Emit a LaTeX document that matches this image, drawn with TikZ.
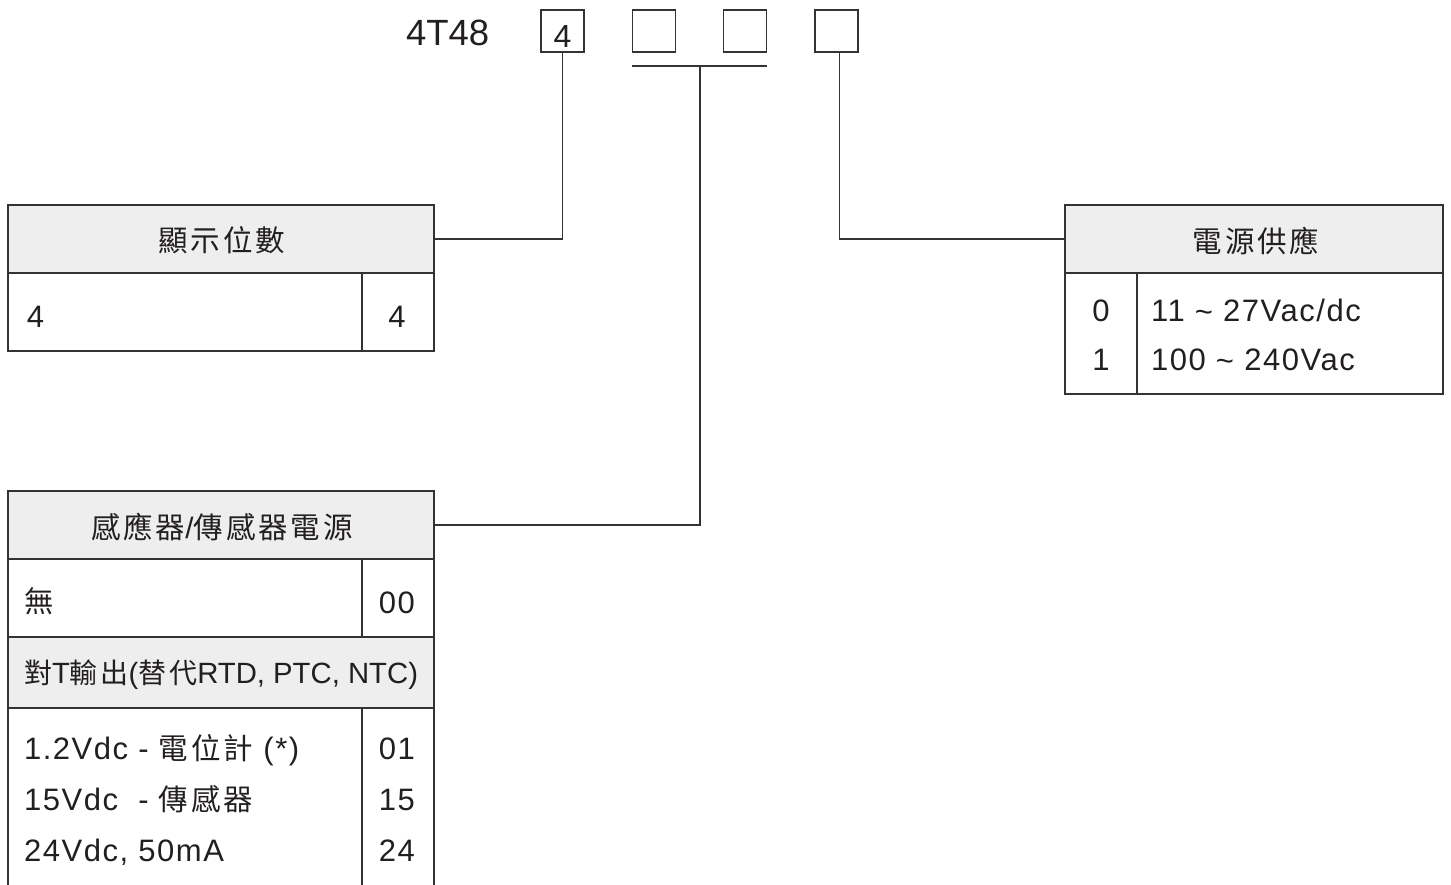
\documentclass[tikz,border=0pt]{standalone}
\usepackage{fontspec}
\setmainfont{Liberation Sans}
\newfontfamily\lat[LetterSpace=5]{Liberation Sans}
\newfontfamily\latn{Liberation Sans}
\newfontfamily\cjk[LetterSpace=10]{Noto Sans CJK TC}
\definecolor{ink}{HTML}{231F20}
\definecolor{hdr}{HTML}{EEEEEE}
\definecolor{ln}{HTML}{333333}
\tikzset{
  cellbox/.style={draw=ln, line width=1.5pt, anchor=north west, inner sep=0pt, outer sep=0pt},
  hdrbox/.style={cellbox, fill=hdr},
  digbox/.style={draw=ln, line width=1.3pt, inner sep=0pt, outer sep=0pt, minimum width=43pt, minimum height=42pt},
  conn/.style={draw=ln, line width=1.3pt},
  txt/.style={text=ink, inner sep=0pt, outer sep=0pt, font=\lat\fontsize{31}{34}\selectfont},
  ctxt/.style={text=ink, inner sep=0pt, outer sep=0pt, font=\cjk\fontsize{29.5}{34}\selectfont},
}
\begin{document}
\begin{tikzpicture}[x=1pt,y=-1pt]
\useasboundingbox (0,0) rectangle (1451,884);
% code line
\node[txt, font=\latn\fontsize{36.5}{40}\selectfont, anchor=base west] (code) at (406,45) {4T48};
\node[digbox] (b1) at (562.5,31) {};
\node[txt, font=\latn\fontsize{32}{34}\selectfont, anchor=base] (b1t) at (562.5,47) {4};
\node[digbox] (b2) at (654,31) {};
\node[digbox] (b3) at (745,31) {};
\node[digbox] (b4) at (836.5,31) {};
\coordinate (barL) at (632,66);
\coordinate (barR) at (767,66);
\coordinate (barM) at (700,66);
\draw[conn] (barL) -- (barR);

% table 1
\node[hdrbox, minimum width=426pt, minimum height=68pt] (t1h) at (8,205) {};
\node[ctxt] (t1ht) at (222,240) {顯示位數};
\node[cellbox, minimum width=354pt, minimum height=78pt] (t1a) at (8,273) {};
\node[cellbox, minimum width=72pt, minimum height=78pt] (t1b) at (362,273) {};
\node[txt, anchor=base west] (t1at) at (27,327) {4};
\node[txt, anchor=base] (t1bt) at (397,327) {4};

% table 3
\node[hdrbox, minimum width=378pt, minimum height=68pt] (t3h) at (1065,205) {};
\node[ctxt] (t3ht) at (1256,241) {電源供應};
\node[cellbox, minimum width=72pt, minimum height=121pt] (t3a) at (1065,273) {};
\node[cellbox, minimum width=306pt, minimum height=121pt] (t3b) at (1137,273) {};
\node[txt, anchor=base] (t3a1) at (1101,321) {0};
\node[txt, anchor=base] (t3a2) at (1101,370) {1};
\node[txt, anchor=base west] (t3b1) at (1151,321) {11 \raisebox{-1pt}{\textasciitilde} 27Vac/dc};
\node[txt, anchor=base west] (t3b2) at (1151,370) {100 \raisebox{-1pt}{\textasciitilde} 240Vac};

% table 2
\node[hdrbox, minimum width=426pt, minimum height=68pt] (t2h) at (8,491) {};
\node[ctxt] (t2ht) at (222,527) {感應器{\latn/}傳感器電源};
\node[cellbox, minimum width=354pt, minimum height=78pt] (t2a) at (8,559) {};
\node[cellbox, minimum width=72pt, minimum height=78pt] (t2b) at (362,559) {};
\node[ctxt, anchor=west] (t2at) at (24,601) {無};
\node[txt, anchor=base] (t2bt) at (397,613) {00};
\node[hdrbox, minimum width=426pt, minimum height=71pt] (t2g) at (8,637) {};
\node[txt, font=\latn\fontsize{29.3}{34}\selectfont, anchor=base west] (t2gt) at (24,683)
  {{\cjk\fontsize{28}{34}\selectfont 對}T{\cjk\fontsize{28}{34}\selectfont 輸出}({\cjk\fontsize{28}{34}\selectfont 替代}RTD, PTC, NTC)};
\node[cellbox, minimum width=354pt, minimum height=190pt] (t2c) at (8,708) {};
\node[cellbox, minimum width=72pt, minimum height=190pt] (t2d) at (362,708) {};
\node[txt, anchor=base west] (t2c1) at (24,759) {1.2Vdc - {\cjk\fontsize{29.5}{34}\selectfont 電位計} (*)};
\node[txt, anchor=base west] (t2c2) at (24,810) {15Vdc\ \ - {\cjk\fontsize{29.5}{34}\selectfont 傳感器}};
\node[txt, anchor=base west] (t2c3) at (24,861) {24Vdc, 50mA};
\node[txt, anchor=base] (t2d1) at (397,759) {01};
\node[txt, anchor=base] (t2d2) at (397,810) {15};
\node[txt, anchor=base] (t2d3) at (397,861) {24};

% connectors
\draw[conn] (b1.south) |- (t1h.east);
\draw[conn] (barM) |- (t2h.east);
\draw[conn] ([xshift=3pt]b4.south) |- (t3h.west);
\end{tikzpicture}
\end{document}
